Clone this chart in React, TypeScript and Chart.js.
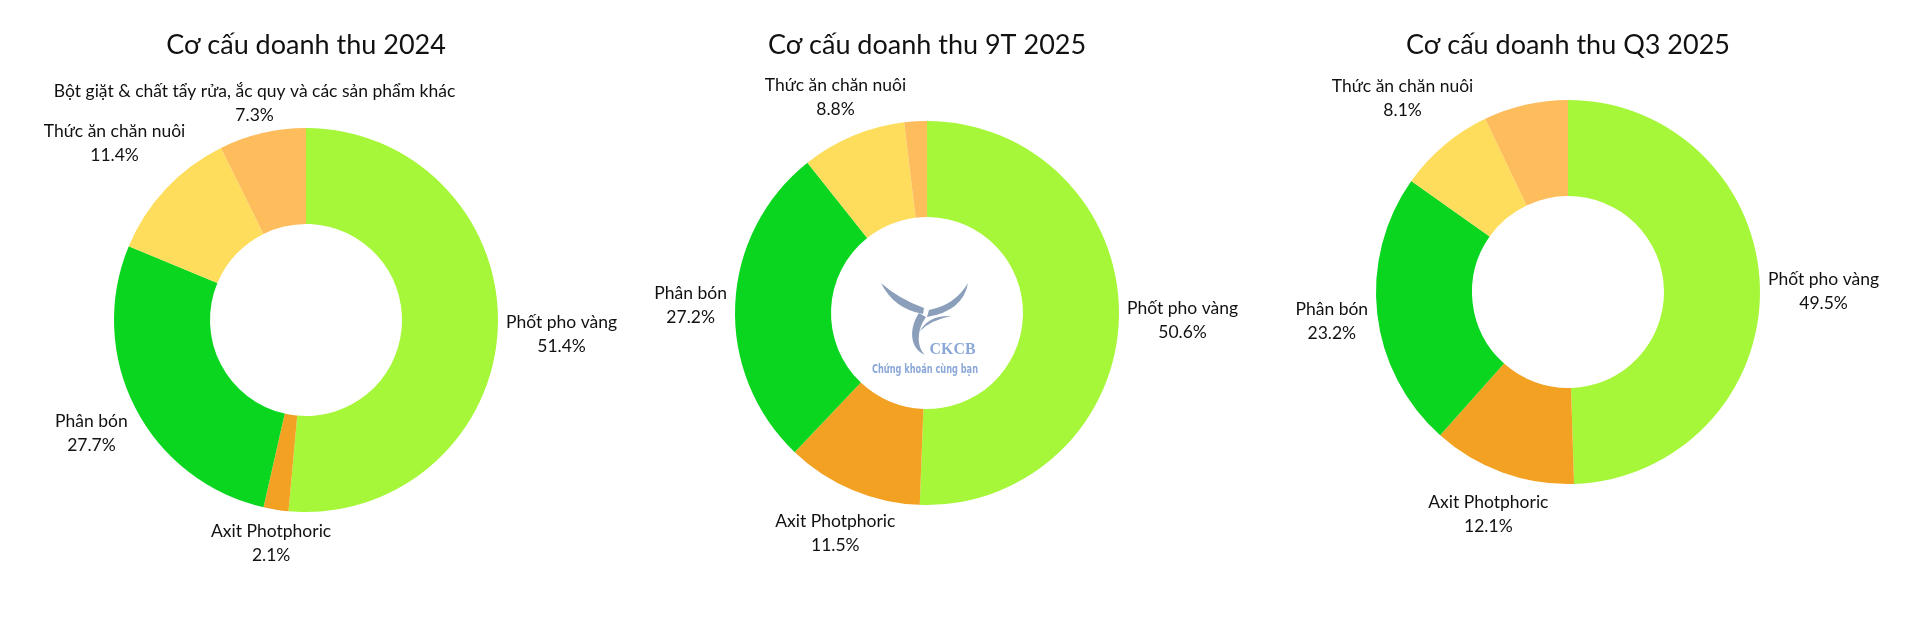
import React, { useEffect, useRef } from "react";
import { Chart, registerables } from "chart.js";

Chart.register(...registerables);

// ---------- data ----------
const categories = [
  "Phốt pho vàng",
  "Axit Photphoric",
  "Phân bón",
  "Thức ăn chăn nuôi",
  "Bột giặt & chất tẩy rửa, ắc quy và các sản phẩm khác",
];
const sliceColors = ["#a6f63a", "#f2a123", "#0ad620", "#fedd5c", "#fdbd5d"];

const titles = [
  "Cơ cấu doanh thu 2024",
  "Cơ cấu doanh thu 9T 2025",
  "Cơ cấu doanh thu Q3 2025",
];
const values2024 = [51.4, 2.1, 27.7, 11.4, 7.3];
const values9T2025 = [50.6, 11.5, 27.2, 8.8, 1.9];
const valuesQ32025 = [49.5, 12.1, 23.2, 8.1, 7.1];
const showLabels2024 = [true, true, true, true, true];
const showLabels9T2025 = [true, true, true, true, false];
const showLabelsQ32025 = [true, true, true, true, false];

// ---------- layout ----------
const FONT = "Lato, 'Noto Sans', sans-serif";
const W = 640;
const H = 618;
const R = 192;
const GAP = 8;
const LINE_H = 24;
const BOX_H = 40;
const LABEL_DY = 3;
const LABEL_SIZE = 17.5;
const TITLE_SIZE = 27;
const TITLE_BASELINE = 54;

type Spec = {
  title: string;
  values: number[];
  show: boolean[];
  cx: number;
  cy: number;
  logo: boolean;
};

const specs: Spec[] = [
  { title: titles[0], values: values2024, show: showLabels2024, cx: 306, cy: 320, logo: false },
  { title: titles[1], values: values9T2025, show: showLabels9T2025, cx: 927, cy: 313, logo: true },
  { title: titles[2], values: valuesQ32025, show: showLabelsQ32025, cx: 1568, cy: 292, logo: false },
];

function drawLogo(ctx: CanvasRenderingContext2D, ox: number, oy: number) {
  ctx.save();
  ctx.translate(ox, oy);
  ctx.fillStyle = "#8b9fbb";
  // left horn
  ctx.beginPath();
  ctx.moveTo(-46, -30);
  ctx.quadraticCurveTo(-33, -4, -4, 1);
  ctx.lineTo(-3, -5);
  ctx.quadraticCurveTo(-28, -14, -46, -30);
  ctx.closePath();
  ctx.fill();
  // right horn
  ctx.beginPath();
  ctx.moveTo(41, -30);
  ctx.quadraticCurveTo(36, -2, 0, 4);
  ctx.lineTo(2, -3);
  ctx.quadraticCurveTo(28, -8, 41, -30);
  ctx.closePath();
  ctx.fill();
  // stem
  ctx.beginPath();
  ctx.moveTo(-8, 0);
  ctx.bezierCurveTo(-18, 15, -18, 35, -2, 42);
  ctx.bezierCurveTo(-10, 34, -11, 18, -1, 4);
  ctx.closePath();
  ctx.fill();
  // inner arc
  ctx.beginPath();
  ctx.moveTo(-7, 18);
  ctx.quadraticCurveTo(2, 2, 24, 3);
  ctx.quadraticCurveTo(4, 7, -7, 18);
  ctx.closePath();
  ctx.fill();

  ctx.fillStyle = "#8ba8d8";
  ctx.textAlign = "center";
  ctx.textBaseline = "alphabetic";
  ctx.font = "bold 16px 'Liberation Serif', 'DejaVu Serif', serif";
  ctx.fillText("CKCB", 25.5, 40.5, 46);
  ctx.font = "bold 12px 'Liberation Sans Narrow', 'DejaVu Sans Condensed', sans-serif";
  ctx.fillText("Chứng khoán cùng bạn", -2, 60, 106);
  ctx.restore();
}

function DonutChart({ spec }: { spec: Spec }) {
  const ref = useRef<HTMLCanvasElement | null>(null);
  useEffect(() => {
    if (!ref.current) return;
    const { values, show, title, cy, logo } = spec;

    const overlay = {
      id: "overlay",
      afterDatasetsDraw(chart: any) {
        const ctx: CanvasRenderingContext2D = chart.ctx;
        const area = chart.chartArea;
        const centerX = (area.left + area.right) / 2;
        const centerY = (area.top + area.bottom) / 2;
        if (logo) drawLogo(ctx, centerX, centerY);

        // title
        ctx.save();
        ctx.fillStyle = "#111111";
        ctx.font = `${TITLE_SIZE}px ${FONT}`;
        ctx.textAlign = "center";
        ctx.textBaseline = "alphabetic";
        ctx.fillText(title, centerX, TITLE_BASELINE);

        // outside labels
        ctx.font = `${LABEL_SIZE}px ${FONT}`;
        ctx.textBaseline = "middle";
        const meta = chart.getDatasetMeta(0);
        meta.data.forEach((arc: any, i: number) => {
          if (!show[i]) return;
          const p = arc.getProps(["x", "y", "startAngle", "endAngle", "outerRadius"], true);
          const mid = (p.startAngle + p.endAngle) / 2;
          const ux = Math.cos(mid);
          const uy = Math.sin(mid);
          const l1 = categories[i];
          const l2 = values[i].toFixed(1) + "%";
          const w = Math.max(ctx.measureText(l1).width, ctx.measureText(l2).width);
          const target = p.outerRadius + GAP;
          let lo = 0;
          let hi = 2000;
          for (let k = 0; k < 60; k++) {
            const d = (lo + hi) / 2;
            const ddx = Math.max(Math.abs(d * ux) - w / 2, 0);
            const ddy = Math.max(Math.abs(d * uy) - BOX_H / 2, 0);
            if (Math.hypot(ddx, ddy) < target) lo = d;
            else hi = d;
          }
          const lx = p.x + hi * ux;
          const ly = p.y + hi * uy + LABEL_DY;
          ctx.textAlign = "center";
          ctx.fillText(l1, lx, ly - LINE_H / 2);
          ctx.fillText(l2, lx, ly + LINE_H / 2);
        });
        ctx.restore();
      },
    };

    const chart = new Chart(ref.current, {
      type: "doughnut",
      data: {
        labels: categories,
        datasets: [
          {
            data: values,
            backgroundColor: sliceColors,
            borderWidth: 0,
            hoverOffset: 0,
          },
        ],
      },
      options: {
        responsive: false,
        maintainAspectRatio: false,
        animation: false,
        events: [],
        cutout: "50%",
        radius: R,
        layout: {
          padding: { left: W / 2 - R, right: W / 2 - R, top: cy - R, bottom: H - cy - R },
        },
        plugins: {
          legend: { display: false },
          tooltip: { enabled: false },
          title: { display: false },
        },
      } as any,
      plugins: [overlay],
    });
    return () => chart.destroy();
  }, [spec]);

  return (
    <canvas
      ref={ref}
      width={W}
      height={H}
      style={{ position: "absolute", left: spec.cx - W / 2, top: 0, width: W, height: H }}
    />
  );
}

export default function App() {
  return (
    <div
      style={{
        position: "absolute",
        left: 0,
        top: 0,
        width: 1911,
        height: 618,
        overflow: "hidden",
        background: "#ffffff",
      }}
    >
      {specs.map((s, i) => (
        <DonutChart key={i} spec={s} />
      ))}
    </div>
  );
}
